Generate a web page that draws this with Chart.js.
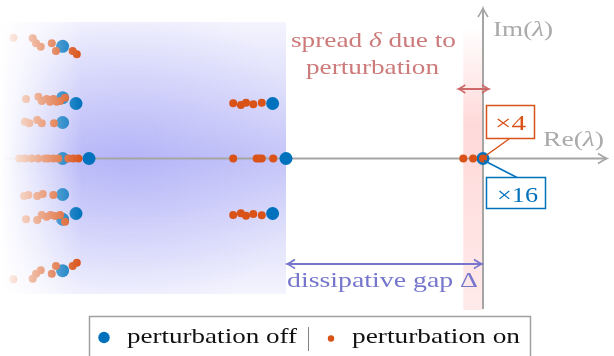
<!DOCTYPE html>
<html>
<head>
<meta charset="utf-8">
<title>Spectrum under perturbation</title>
<script src="https://cdn.jsdelivr.net/npm/chart.js@4.4.1/dist/chart.umd.min.js"></script>
<style>
  html, body { margin: 0; padding: 0; background: #fff; }
  #wrap { width: 614px; height: 356px; position: relative; }
</style>
</head>
<body>
<div id="wrap"><canvas id="c" width="614" height="356"></canvas></div>
<script>
// Eigenvalues in the complex plane, Re in units of the dissipative gap.
// Unperturbed spectrum
const offRe = [0, -1, -1.068, -1.068, -2, -2.066, -2.066,
               -2.134, -2.134, -2.134, -2.134, -2.134, -2.134, -2.134];
const offIm = [0, 0, 1, -1, 0, 1, -1,
               0, 0.655, -0.655, 1.105, -1.105, 2.04, -2.04];

// Perturbed spectrum: steady-state branch
const onCenterRe = [-0.1, -0.05, 0];
const onCenterIm = [0, 0, 0];

// Perturbed spectrum: first decay band
const onMiddleRe = [-1.268, -1.229, -1.203, -1.166, -1.123,
                    -1.268, -1.229, -1.203, -1.166, -1.123,
                    -1.268, -1.149, -1.136, -1.123, -1.065];
const onMiddleIm = [1.004, 0.973, 1.013, 0.985, 1.013,
                    -1.027, -0.996, -1.04, -1.009, -1.033,
                    0, 0, 0, 0, 0];

// Perturbed spectrum: second decay band
const onLeftRe = [-2.384, -2.286, -2.269, -2.245, -2.189, -2.168, -2.083, -2.062,
                  -2.384, -2.286, -2.269, -2.245, -2.189, -2.168, -2.083, -2.062,
                  -2.32, -2.257, -2.24, -2.215, -2.198, -2.181, -2.164, -2.147, -2.122,
                  -2.32, -2.263, -2.24, -2.215, -2.195, -2.173, -2.147, -2.122,
                  -2.325, -2.303, -2.263, -2.24, -2.178,
                  -2.33, -2.308, -2.263, -2.235, -2.181,
                  -2.354, -2.325, -2.291, -2.258, -2.223, -2.207, -2.181, -2.156, -2.105, -2.08, -2.054];
const onLeftIm = [2.196, 2.185, 2.095, 2.033, 2.095, 1.955, 1.955, 1.895,
                  -2.196, -2.185, -2.095, -2.033, -2.095, -1.955, -1.955, -1.895,
                  1.082, 1.124, 1.045, 1.082, 1.033, 1.082, 1.033, 1.045, 1.105,
                  -1.105, -1.118, -1.027, -1.058, -1.027, -1.045, -1.027, -1.149,
                  0.669, 0.64, 0.7, 0.64, 0.64,
                  -0.682, -0.664, -0.682, -0.645, -0.664,
                  0, 0, 0, 0, 0, 0, 0, 0, 0, 0, 0];

// Degeneracy of the steady state
const multOn = 4;
const multOff = 16;

// Scale extents and labels
const reMin = -2.4518, reMax = 0.665;
const imMin = -3.591, imMax = 2.882;
const spreadRe = -0.1;   // width delta of the perturbed steady-state cluster
const gapRe = -1;        // dissipative gap Delta
const seriesLabels = ['perturbation off', 'perturbation on'];

const BLUE = '#0072BD';
const ORANGE = '#D95319';
const SERIF = '"Liberation Serif", "DejaVu Serif", serif';

const zip = (re, im) => re.map((r, i) => ({ x: r, y: im[i] }));
const offPts = zip(offRe, offIm);
const onPts = [].concat(zip(onCenterRe, onCenterIm), zip(onMiddleRe, onMiddleIm), zip(onLeftRe, onLeftIm));

// text made of runs [string, italic], stretched to a given width
function runs(ctx, parts, x, y, w, size, color) {
  ctx.save();
  ctx.fillStyle = color;
  ctx.textBaseline = 'alphabetic';
  ctx.textAlign = 'left';
  const fonts = parts.map(p => (p[1] ? 'italic ' : '') + size + 'px ' + SERIF);
  let total = 0;
  parts.forEach((p, i) => { ctx.font = fonts[i]; total += ctx.measureText(p[0]).width; });
  const sx = w ? w / total : 1;
  ctx.translate(x, y);
  ctx.scale(sx, 1);
  let cx = 0;
  parts.forEach((p, i) => { ctx.font = fonts[i]; ctx.fillText(p[0], cx, 0); cx += ctx.measureText(p[0]).width; });
  ctx.restore();
}

// LaTeX-style curved arrow tip
function head(ctx, x, y, ang, len, half) {
  ctx.save();
  ctx.translate(x, y);
  ctx.rotate(ang);
  ctx.beginPath();
  ctx.moveTo(-len, -half);
  ctx.quadraticCurveTo(-len * 0.3, -half * 0.2, 0, 0);
  ctx.quadraticCurveTo(-len * 0.3, half * 0.2, -len, half);
  ctx.stroke();
  ctx.restore();
}

const decor = {
  id: 'decor',
  beforeDatasetsDraw(chart) {
    const ctx = chart.ctx;
    const sx = chart.scales.x, sy = chart.scales.y;
    const x0 = sx.getPixelForValue(0), y0 = sy.getPixelForValue(0);
    const xGap = sx.getPixelForValue(gapRe);
    const xSpr = sx.getPixelForValue(spreadRe);
    ctx.save();

    // shaded region of the decaying modes
    const top = 22, bot = 294;
    let g = ctx.createLinearGradient(0, top, 0, bot);
    g.addColorStop(0, 'rgba(120,120,240,0.08)');
    g.addColorStop((y0 - top) / (bot - top), 'rgba(120,120,240,0.42)');
    g.addColorStop(1, 'rgba(120,120,240,0.08)');
    ctx.fillStyle = g;
    ctx.fillRect(0, top, xGap, bot - top);
    let rg = ctx.createRadialGradient(130, y0, 0, 130, y0, 170);
    rg.addColorStop(0, 'rgba(110,110,245,0.2)');
    rg.addColorStop(1, 'rgba(110,110,245,0)');
    ctx.fillStyle = rg;
    ctx.fillRect(0, top, xGap, bot - top);

    // band of width delta next to the imaginary axis
    const rt = 26, rb = 310;
    g = ctx.createLinearGradient(0, rt, 0, rb);
    g.addColorStop(0, 'rgba(255,150,150,0)');
    g.addColorStop(0.35, 'rgba(255,150,150,0.36)');
    g.addColorStop(1, 'rgba(255,150,150,0.2)');
    ctx.fillStyle = g;
    ctx.fillRect(xSpr, rt, x0 - xSpr, rb - rt);

    // axes
    ctx.strokeStyle = 'rgb(165,165,165)';
    ctx.lineWidth = 2;
    ctx.beginPath();
    ctx.moveTo(0, y0); ctx.lineTo(606, y0);
    ctx.moveTo(x0, 309); ctx.lineTo(x0, 9);
    ctx.stroke();
    ctx.lineWidth = 1.6;
    head(ctx, 607, y0, 0, 9, 5);
    head(ctx, x0, 8, -Math.PI / 2, 9, 5);
    ctx.restore();
  },
  afterDatasetsDraw(chart) {
    const ctx = chart.ctx;
    const sx = chart.scales.x, sy = chart.scales.y;
    const x0 = sx.getPixelForValue(0), y0 = sy.getPixelForValue(0);
    const xGap = sx.getPixelForValue(gapRe);
    const xSpr = sx.getPixelForValue(spreadRe);
    ctx.save();

    // fade towards the far left of the spectrum
    const f = ctx.createLinearGradient(0, 0, 82, 0);
    f.addColorStop(0, 'rgba(255,255,255,1)');
    f.addColorStop(1, 'rgba(255,255,255,0)');
    ctx.fillStyle = f;
    ctx.fillRect(0, 0, 82, 312);

    // axis labels
    const gray = 'rgb(170,170,170)';
    runs(ctx, [['Im(', false], ['λ', true], [')', false]], 493, 36, 60, 21, gray);
    runs(ctx, [['Re(', false], ['λ', true], [')', false]], 543, 146, 61, 21, gray);

    // spread delta
    const rose = 'rgb(205,122,122)';
    runs(ctx, [['spread ', false], ['δ', true], [' due to', false]], 291, 47, 165, 21, rose);
    runs(ctx, [['perturbation', false]], 306, 74, 133, 21, rose);
    ctx.strokeStyle = 'rgb(205,105,105)';
    ctx.lineWidth = 2;
    ctx.beginPath();
    ctx.moveTo(xSpr - 4, 89); ctx.lineTo(x0 + 5, 89);
    ctx.stroke();
    ctx.lineWidth = 1.6;
    head(ctx, x0 + 6, 89, 0, 7, 4);
    head(ctx, xSpr - 5, 89, Math.PI, 7, 4);

    // dissipative gap Delta
    const slate = 'rgb(118,118,205)';
    ctx.strokeStyle = slate;
    ctx.lineWidth = 2;
    ctx.beginPath();
    ctx.moveTo(xGap + 1, 264); ctx.lineTo(x0 - 1, 264);
    ctx.stroke();
    ctx.lineWidth = 1.6;
    head(ctx, x0 - 1, 264, 0, 8, 4.5);
    head(ctx, xGap + 1, 264, Math.PI, 8, 4.5);
    runs(ctx, [['dissipative gap Δ', false]], 287, 287, 191, 21, slate);

    // degeneracy tags at the steady state
    ctx.lineWidth = 1.5;
    ctx.strokeStyle = ORANGE;
    ctx.beginPath(); ctx.moveTo(x0 + 3, y0 - 3); ctx.lineTo(509, 139); ctx.stroke();
    ctx.fillStyle = '#fff';
    ctx.fillRect(486.5, 105.5, 48, 33);
    ctx.strokeRect(486.5, 105.5, 48, 33);
    runs(ctx, [['×' + multOn, false]], 495, 130, 31, 21, ORANGE);

    ctx.strokeStyle = BLUE;
    ctx.beginPath(); ctx.moveTo(x0 + 1, y0 + 2); ctx.lineTo(517, 177.5); ctx.stroke();
    ctx.fillStyle = '#fff';
    ctx.fillRect(486.5, 177.5, 59, 31);
    ctx.strokeRect(486.5, 177.5, 59, 31);
    runs(ctx, [['×' + multOff, false]], 497, 202, 41, 21, BLUE);

    // legend
    ctx.strokeStyle = 'rgb(160,160,160)';
    ctx.lineWidth = 1.5;
    ctx.strokeRect(89.5, 316.5, 441, 50);
    ctx.fillStyle = BLUE;
    ctx.beginPath(); ctx.arc(104, 337.5, 5.7, 0, Math.PI * 2); ctx.fill();
    runs(ctx, [[seriesLabels[0], false]], 127, 343, 170, 22, '#111');
    ctx.strokeStyle = 'rgb(130,130,130)';
    ctx.lineWidth = 1;
    ctx.beginPath(); ctx.moveTo(308.5, 327); ctx.lineTo(308.5, 351); ctx.stroke();
    ctx.fillStyle = ORANGE;
    ctx.beginPath(); ctx.arc(331, 338.5, 3.2, 0, Math.PI * 2); ctx.fill();
    runs(ctx, [[seriesLabels[1], false]], 352, 343, 168, 22, '#111');
    ctx.restore();
  }
};

new Chart(document.getElementById('c'), {
  type: 'scatter',
  data: {
    datasets: [
      { label: seriesLabels[1], data: onPts, backgroundColor: ORANGE, pointRadius: 4,
        pointBorderWidth: 0, borderWidth: 0, order: 0 },
      { label: seriesLabels[0], data: offPts, backgroundColor: BLUE, pointRadius: 6.5,
        pointBorderWidth: 0, borderWidth: 0, order: 1 }
    ]
  },
  options: {
    responsive: false,
    animation: false,
    events: [],
    layout: { padding: 0, autoPadding: false },
    plugins: { legend: { display: false }, tooltip: { enabled: false } },
    scales: {
      x: { type: 'linear', min: reMin, max: reMax, display: false },
      y: { type: 'linear', min: imMin, max: imMax, display: false }
    }
  },
  plugins: [decor]
});
</script>
</body>
</html>
